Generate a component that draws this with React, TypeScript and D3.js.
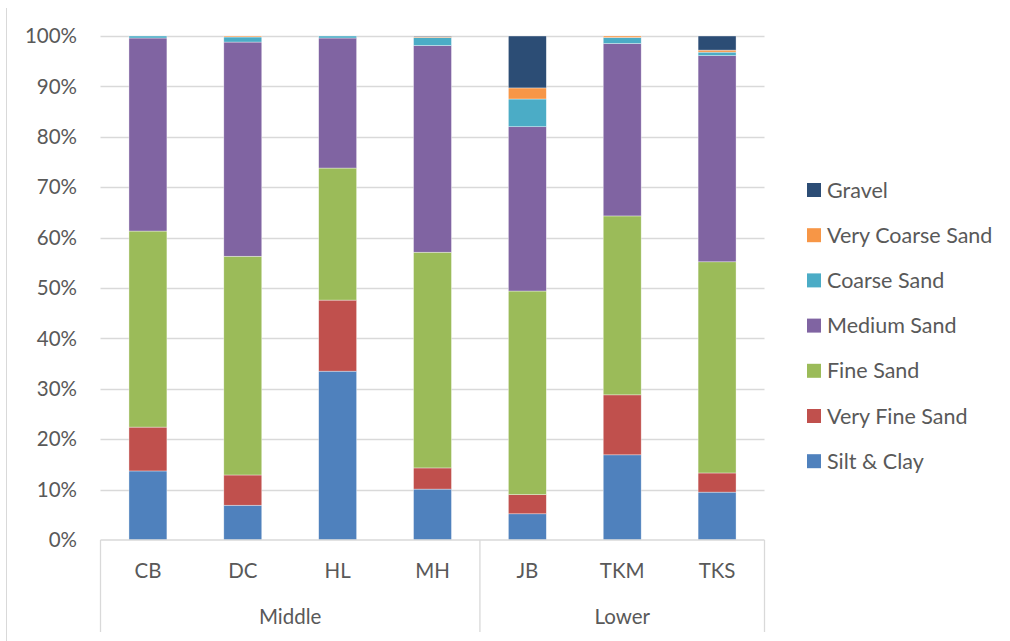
import React from "react";
import * as d3 from "d3";

const categories = ["CB", "DC", "HL", "MH", "JB", "TKM", "TKS"];
const groups = [
  { name: "Middle", members: ["CB", "DC", "HL", "MH"] },
  { name: "Lower", members: ["JB", "TKM", "TKS"] },
];
const seriesNames = ["Silt & Clay", "Very Fine Sand", "Fine Sand", "Medium Sand", "Coarse Sand", "Very Coarse Sand", "Gravel"];
const seriesColors = ["#4F81BD", "#C0504D", "#9BBB59", "#8064A2", "#4BACC6", "#F79646", "#2C4D75"];

const siltClay = [13.7, 6.9, 33.5, 10.1, 5.2, 16.9, 9.5];
const veryFineSand = [8.7, 6.0, 14.1, 4.2, 3.8, 11.9, 3.8];
const fineSand = [38.9, 43.4, 26.2, 42.8, 40.4, 35.5, 41.9];
const mediumSand = [38.3, 42.5, 25.8, 41.0, 32.6, 34.2, 40.9];
const coarseSand = [0.4, 1.0, 0.4, 1.6, 5.5, 1.2, 0.7];
const veryCoarseSand = [0.0, 0.2, 0.0, 0.2, 2.2, 0.3, 0.4];
const gravel = [0.0, 0.0, 0.0, 0.1, 10.3, 0.0, 2.8];

const yTicks = [0, 10, 20, 30, 40, 50, 60, 70, 80, 90, 100];

const seriesValues = [siltClay, veryFineSand, fineSand, mediumSand, coarseSand, veryCoarseSand, gravel];

const FONT = "Lato, 'DejaVu Sans', sans-serif";
const TXT = "#595959";

export default function App() {
  const W = 1010, H = 641;
  const left = 100.5, right = 764.5, top = 36, bottom = 540;

  const x = d3.scaleBand<string>().domain(categories).range([left, right]).paddingInner(0.6).paddingOuter(0.3);
  const xStep = d3.scaleBand<string>().domain(categories).range([left, right]).padding(0);
  const y = d3.scaleLinear().domain([0, 100]).range([bottom, top]);

  const rows = categories.map((c, i) => {
    const o: any = { cat: c };
    seriesNames.forEach((s, k) => { o[s] = seriesValues[k][i]; });
    return o;
  });
  const stack = d3.stack<any>().keys(seriesNames).offset(d3.stackOffsetExpand)(rows);

  const groupBounds = groups.map((g) => {
    const x0 = xStep(g.members[0])!;
    const x1 = xStep(g.members[g.members.length - 1])! + xStep.bandwidth();
    return { name: g.name, x0, x1 };
  });
  const dividers = [left, ...groupBounds.map((g) => g.x1)];

  const legendItems = seriesNames.map((s, i) => ({ s, c: seriesColors[i] })).reverse();

  return (
    <svg width={W} height={H} style={{ position: "absolute", left: 0, top: 0 }} fontFamily={FONT}>
      <rect x={0} y={0} width={W} height={H} fill="#fff" />
      <line x1={6.5} x2={6.5} y1={8} y2={H} stroke="#D9D9D9" strokeWidth={1} />
      {yTicks.map((t) => (
        <g key={t}>
          {t > 0 && (
            <line x1={left} x2={right} y1={Math.round(y(t)) + 0.5} y2={Math.round(y(t)) + 0.5} stroke="#D9D9D9" strokeWidth={1.3} />
          )}
          <text x={77} y={y(t)} dy="0.35em" textAnchor="end" fontSize={20.5} fill={TXT}>{t}%</text>
        </g>
      ))}
      {stack.map((layer, k) => (
        <g key={layer.key} fill={seriesColors[k]}>
          {layer.map((d, i) => {
            const h = y(d[0] * 100) - y(d[1] * 100);
            if (h <= 0) return null;
            return (
              <rect key={i} x={x(categories[i])} width={x.bandwidth()} y={y(d[1] * 100)} height={h}
                stroke="#ffffff" strokeOpacity={0.6} strokeWidth={0.6} />
            );
          })}
        </g>
      ))}
      <line x1={left} x2={right} y1={bottom} y2={bottom} stroke="#D9D9D9" strokeWidth={1.3} />
      {dividers.map((dx, i) => (
        <line key={i} x1={dx} x2={dx} y1={bottom} y2={632} stroke="#D9D9D9" strokeWidth={1.3} />
      ))}
      {categories.map((c) => (
        <text key={c} x={xStep(c)! + xStep.bandwidth() / 2} y={571} dy="0.35em" textAnchor="middle" fontSize={20.5} fill={TXT}>{c}</text>
      ))}
      {groupBounds.map((g) => (
        <text key={g.name} x={(g.x0 + g.x1) / 2} y={617} dy="0.35em" textAnchor="middle" fontSize={20.5} fill={TXT}>{g.name}</text>
      ))}
      {legendItems.map((it, i) => (
        <g key={it.s} transform={`translate(807, ${190 + i * 45.2})`}>
          <rect x={0} y={-7} width={14} height={14} fill={it.c} />
          <text x={20} y={0} dy="0.35em" fontSize={21.5} fill={TXT}>{it.s}</text>
        </g>
      ))}
    </svg>
  );
}
